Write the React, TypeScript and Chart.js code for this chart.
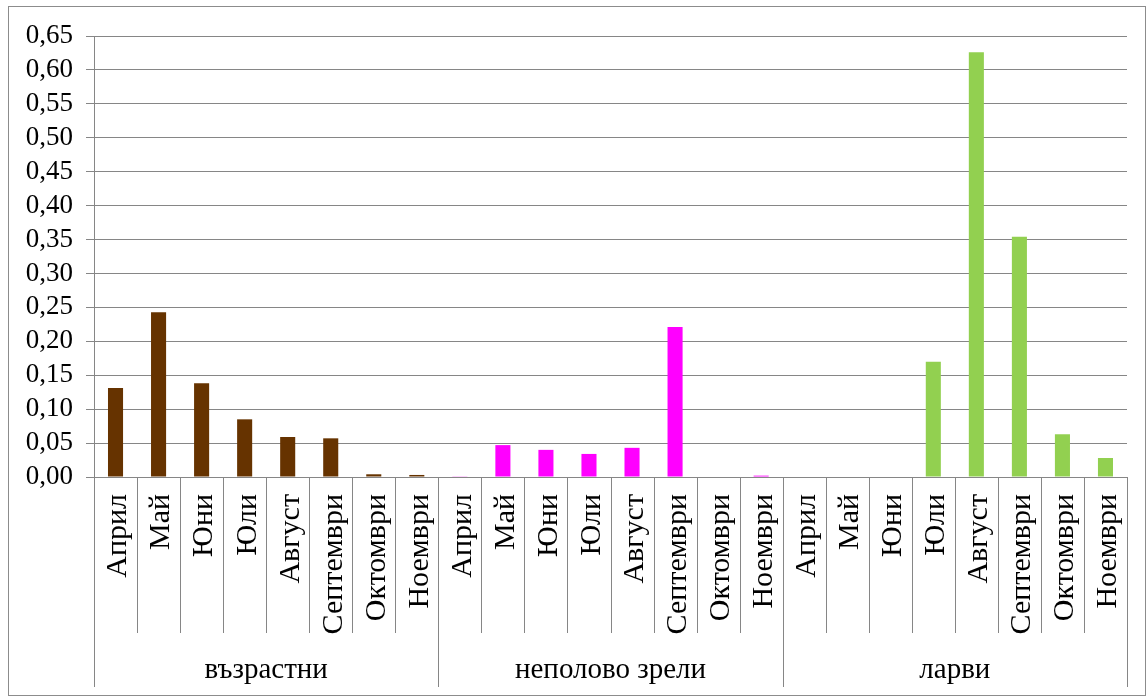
import React, { useEffect, useRef } from 'react';
import { Chart, registerables } from 'chart.js';

Chart.register(...registerables);

const months = ['Април', 'Май', 'Юни', 'Юли', 'Август', 'Септември', 'Октомври', 'Ноември'];
const groups = ['възрастни', 'неполово зрели', 'ларви'];
const adultValues = [0.131, 0.243, 0.138, 0.085, 0.059, 0.057, 0.004, 0.003];
const immatureValues = [0.001, 0.047, 0.040, 0.034, 0.043, 0.221, 0, 0.002];
const larvaeValues = [0, 0, 0, 0.170, 0.626, 0.354, 0.063, 0.028];
const groupColors = ['#663300', '#FF00FF', '#92D050'];
const yMin = 0;
const yMax = 0.65;
const yStep = 0.05;

const FONT = "'Liberation Serif', 'Times New Roman', serif";
const GRID = '#868686';

const seriesByGroup = [adultValues, immatureValues, larvaeValues];
const labels: string[] = [];
const values: number[] = [];
const colors: string[] = [];
seriesByGroup.forEach((arr, g) => {
  arr.forEach((v, i) => {
    labels.push(months[i]);
    values.push(v);
    colors.push(groupColors[g]);
  });
});

const groupPlugin = {
  id: 'groupAxis',
  afterDraw(chart: any) {
    const { ctx, chartArea, scales } = chart;
    const x = scales.x;
    const n = labels.length;
    const per = months.length;
    const boundary = (i: number) => {
      if (i <= 0) return chartArea.left;
      if (i >= n) return chartArea.right;
      return (x.getPixelForValue(i - 1) + x.getPixelForValue(i)) / 2;
    };
    const base = chartArea.bottom;
    ctx.save();
    ctx.strokeStyle = GRID;
    ctx.lineWidth = 1;
    for (let i = 0; i <= n; i++) {
      const bx = Math.round(boundary(i)) + 0.5;
      const isGroup = i % per === 0;
      ctx.beginPath();
      ctx.moveTo(bx, base);
      ctx.lineTo(bx, base + (isGroup ? 210 : 156));
      ctx.stroke();
    }
    ctx.fillStyle = '#000';
    ctx.font = `29px ${FONT}`;
    ctx.textAlign = 'center';
    ctx.textBaseline = 'middle';
    groups.forEach((g, gi) => {
      const cx = (boundary(gi * per) + boundary((gi + 1) * per)) / 2;
      ctx.fillText(g, cx, base + 193);
    });
    ctx.restore();
  },
};

export default function App() {
  const ref = useRef<HTMLCanvasElement>(null);
  useEffect(() => {
    if (!ref.current) return;
    const chart = new Chart(ref.current, {
      type: 'bar',
      data: {
        labels,
        datasets: [
          {
            data: values,
            backgroundColor: colors,
            borderWidth: 0,
            barPercentage: 0.35,
            categoryPercentage: 1,
          },
        ],
      },
      options: {
        responsive: false,
        animation: false,
        layout: { padding: { top: 29, right: 18, left: 0, bottom: 0 } },
        plugins: { legend: { display: false }, tooltip: { enabled: false } },
        scales: {
          x: {
            offset: true,
            grid: { display: false, drawTicks: false },
            border: { display: true, color: GRID, width: 1 },
            ticks: {
              autoSkip: false,
              minRotation: 90,
              maxRotation: 90,
              padding: 17,
              labelOffset: 3,
              color: '#000',
              font: { family: FONT, size: 30 },
            },
            afterFit: (s: any) => {
              s.height = 218;
              s.paddingLeft = 0;
              s.paddingRight = 0;
            },
          },
          y: {
            min: yMin,
            max: yMax,
            grid: { color: GRID, lineWidth: 1, tickLength: 8 },
            border: { display: true, color: GRID, width: 1 },
            ticks: {
              autoSkip: false,
              stepSize: yStep,
              padding: 13,
              color: '#000',
              font: { family: FONT, size: 27 },
              callback: (v: any) => Number(v).toFixed(2).replace('.', ','),
            },
            afterFit: (s: any) => {
              s.width = 85;
              s.paddingTop = 0;
              s.paddingBottom = 0;
            },
          },
        },
      },
      plugins: [groupPlugin],
    });
    return () => chart.destroy();
  }, []);
  return (
    <div
      style={{
        position: 'absolute',
        left: 8,
        top: 6,
        width: 1136,
        height: 688,
        border: '1px solid #8c8c8c',
        background: '#fff',
      }}
    >
      <canvas ref={ref} width={1136} height={688} style={{ display: 'block' }} />
    </div>
  );
}
